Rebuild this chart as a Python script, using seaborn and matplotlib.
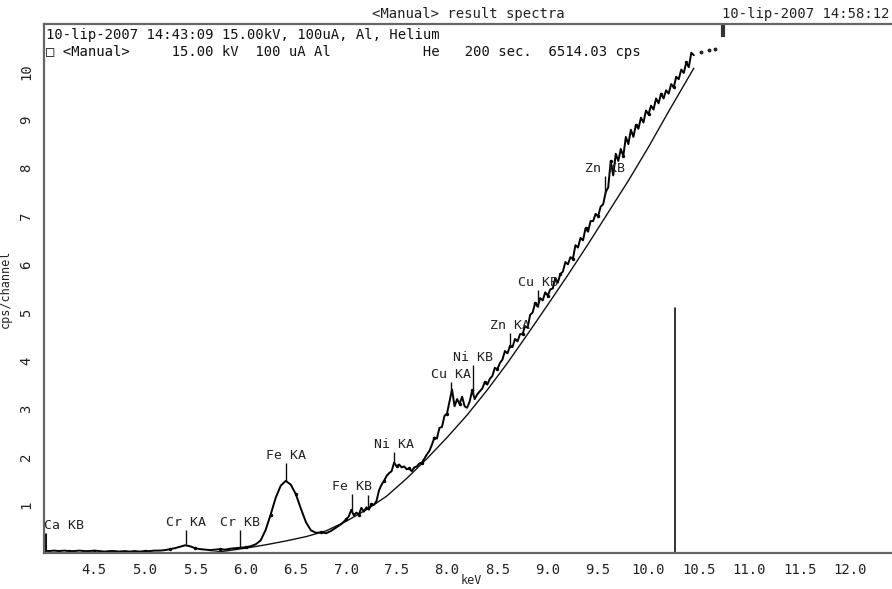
import numpy as np
import pandas as pd
import matplotlib
matplotlib.use("Agg")
import matplotlib.pyplot as plt
import seaborn as sns

# ---------------- data ----------------
kev_low = [4.00, 4.05, 4.10, 4.15, 4.20, 4.25, 4.30, 4.35, 4.40, 4.45,
           4.50, 4.55, 4.60, 4.65, 4.70, 4.75, 4.80, 4.85, 4.90, 4.95,
           5.00, 5.05, 5.10, 5.15, 5.20, 5.25, 5.30, 5.35, 5.40, 5.45,
           5.50, 5.55, 5.60, 5.65, 5.70, 5.75, 5.80, 5.85, 5.90, 5.95,
           6.00, 6.05, 6.10, 6.15, 6.20, 6.25, 6.30, 6.35, 6.40, 6.45,
           6.50, 6.55, 6.60, 6.65, 6.70, 6.75, 6.80, 6.85, 6.90, 6.95]
cps_low = [0.05, 0.04, 0.05, 0.04, 0.05, 0.04, 0.04, 0.05, 0.04, 0.04,
           0.05, 0.04, 0.03, 0.04, 0.04, 0.03, 0.04, 0.03, 0.04, 0.03,
           0.04, 0.04, 0.05, 0.05, 0.06, 0.08, 0.10, 0.13, 0.16, 0.14,
           0.10, 0.08, 0.07, 0.06, 0.07, 0.08, 0.07, 0.09, 0.10, 0.11,
           0.12, 0.14, 0.18, 0.26, 0.48, 0.80, 1.15, 1.40, 1.50, 1.42,
           1.22, 0.92, 0.64, 0.47, 0.42, 0.43, 0.41, 0.46, 0.53, 0.60]

kev_high = [7.000, 7.025, 7.050, 7.075, 7.100, 7.125, 7.150, 7.175, 7.200, 7.225,
            7.250, 7.275, 7.300, 7.325, 7.350, 7.375, 7.400, 7.425, 7.450, 7.475,
            7.500, 7.525, 7.550, 7.575, 7.600, 7.625, 7.650, 7.675, 7.700, 7.725,
            7.750, 7.775, 7.800, 7.825, 7.850, 7.875, 7.900, 7.925, 7.950, 7.975,
            8.000, 8.025, 8.050, 8.075, 8.100, 8.125, 8.150, 8.175, 8.200, 8.225,
            8.250, 8.275, 8.300, 8.325, 8.350, 8.375, 8.400, 8.425, 8.450, 8.475,
            8.500, 8.525, 8.550, 8.575, 8.600, 8.625, 8.650, 8.675, 8.700, 8.725,
            8.750, 8.775, 8.800, 8.825, 8.850, 8.875, 8.900, 8.925, 8.950, 8.975,
            9.000, 9.025, 9.050, 9.075, 9.100, 9.125, 9.150, 9.175, 9.200, 9.225,
            9.250, 9.275, 9.300, 9.325, 9.350, 9.375, 9.400, 9.425, 9.450, 9.475,
            9.500, 9.525, 9.550, 9.575, 9.600, 9.625, 9.650, 9.675, 9.700, 9.725,
            9.750, 9.775, 9.800, 9.825, 9.850, 9.875, 9.900, 9.925, 9.950, 9.975,
            10.000, 10.025, 10.050, 10.075, 10.100, 10.125, 10.150, 10.175, 10.200, 10.225,
            10.250, 10.275, 10.300, 10.325, 10.350, 10.375, 10.400, 10.425, 10.450]
cps_high = [0.70, 0.76, 0.90, 0.78, 0.84, 0.80, 0.94, 0.86, 0.95, 0.90,
            1.02, 1.00, 1.08, 1.30, 1.42, 1.50, 1.60, 1.66, 1.70, 1.88,
            1.80, 1.84, 1.78, 1.80, 1.74, 1.76, 1.70, 1.78, 1.80, 1.86,
            1.88, 1.96, 2.05, 2.12, 2.25, 2.40, 2.38, 2.60, 2.62, 2.85,
            2.90, 3.15, 3.40, 3.05, 3.20, 3.10, 3.25, 3.05, 3.02, 3.15,
            3.38, 3.20, 3.30, 3.36, 3.42, 3.55, 3.50, 3.62, 3.68, 3.85,
            3.82, 3.95, 4.02, 4.20, 4.15, 4.30, 4.28, 4.45, 4.40, 4.55,
            4.55, 4.72, 4.68, 4.95, 5.00, 5.20, 5.12, 5.30, 5.25, 5.42,
            5.35, 5.48, 5.50, 5.72, 5.62, 5.80, 5.85, 6.05, 6.00, 6.15,
            6.12, 6.40, 6.35, 6.55, 6.50, 6.75, 6.68, 6.90, 6.90, 7.05,
            7.00, 7.20, 7.25, 7.50, 7.60, 8.15, 7.85, 8.30, 8.15, 8.40,
            8.25, 8.65, 8.50, 8.80, 8.65, 8.90, 8.82, 9.05, 8.95, 9.20,
            9.12, 9.30, 9.22, 9.45, 9.35, 9.55, 9.45, 9.62, 9.55, 9.75,
            9.68, 9.90, 9.85, 10.05, 9.98, 10.20, 10.10, 10.40, 10.35]

bg_kev = [5.6, 5.8, 6.0, 6.2, 6.4, 6.6, 6.8, 7.0, 7.2, 7.4, 7.6, 7.8, 8.0,
          8.2, 8.4, 8.6, 8.8, 9.0, 9.2, 9.4, 9.6, 9.8, 10.0, 10.2, 10.45]
bg_cps = [0.00, 0.04, 0.10, 0.17, 0.25, 0.34, 0.46, 0.66, 0.90, 1.18, 1.55, 1.96, 2.40,
          2.87, 3.39, 3.95, 4.55, 5.16, 5.78, 6.42, 7.08, 7.74, 8.44, 9.18, 10.08]

tail_kev = [10.52, 10.60, 10.66]
tail_cps = [10.42, 10.45, 10.47]

line_names = ["Ca KB", "Cr KA", "Cr KB", "Fe KA", "Fe KB", "", "Ni KA",
              "Cu KA", "Ni KB", "Zn KA", "Cu KB", "Zn KB"]
line_kev = [4.01, 5.41, 5.95, 6.40, 7.06, 7.22, 7.47, 8.04, 8.26, 8.63, 8.90, 9.57]
marker_len = [0.42, 0.33, 0.37, 0.37, 0.37, 0.30, 0.26, 0.25, 0.60, 0.28, 0.35, 0.38]

cursor_kev = 10.26
cursor_cps = 5.09
top_marker_kev = 10.74

xticks = [4.5, 5.0, 5.5, 6.0, 6.5, 7.0, 7.5, 8.0, 8.5, 9.0, 9.5, 10.0, 10.5, 11.0, 11.5, 12.0]
yticks = [1, 2, 3, 4, 5, 6, 7, 8, 9, 10]

# ---------------- plot ----------------
sns.set_theme(style="white")
plt.rcParams["font.family"] = ["DejaVu Sans Mono", "DejaVu Sans"]

W, H = 892, 589
fig = plt.figure(figsize=(W / 100, H / 100), dpi=100)
ax_l, ax_r, ax_t, ax_b = 44, 892, 24, 553
ax = fig.add_axes([ax_l / W, 1 - ax_b / H, (ax_r - ax_l) / W, (ax_b - ax_t) / H])

spec = pd.DataFrame({"keV": kev_low + kev_high, "cps": cps_low + cps_high})
bg = pd.DataFrame({"keV": bg_kev, "cps": bg_cps})

sns.lineplot(data=bg, x="keV", y="cps", ax=ax, color="#111111", linewidth=1.0, sort=False)
sns.lineplot(data=spec, x="keV", y="cps", ax=ax, color="#000000", linewidth=1.4, sort=False,
             marker="o", markersize=2.5, markevery=5, markeredgewidth=0)
ax.plot(tail_kev, tail_cps, ls="none", marker="o", ms=1.8, color="#222222")

# element markers
all_k = np.array(kev_low + kev_high)
all_c = np.array(cps_low + cps_high)
for name, e, ln in zip(line_names, line_kev, marker_len):
    base = float(np.interp(e, all_k, all_c))
    if name == "Ca KB":
        base = 0.0
    ax.plot([e, e], [base, base + ln], color="#111111", lw=1.0 if name != "Ca KB" else 2.2,
            solid_capstyle="butt", clip_on=False)
    if name:
        ha = "left" if name == "Ca KB" else "center"
        tx = e - 0.01 if name == "Ca KB" else e
        ax.text(tx, base + ln + 0.02, name, ha=ha, va="bottom", fontsize=9.5,
                color="#222222")

ax.plot([cursor_kev, cursor_kev], [0, cursor_cps], color="#111111", lw=1.2)
ax.plot([top_marker_kev, top_marker_kev], [11.0, 10.72], color="#333333", lw=3.0,
        solid_capstyle="butt", clip_on=False)

ax.set_xlim(4.0, 4.0 + (ax_r - ax_l) / 100.75)
ax.set_ylim(0, (ax_b - ax_t) / 48.1)
ax.set_xticks(xticks)
ax.set_xticklabels([f"{v:.1f}" for v in xticks])
ax.set_yticks(yticks)
ax.set_yticklabels([str(v) for v in yticks], rotation=90, va="center")
ax.tick_params(axis="x", direction="out", length=3, width=1, colors="#555555",
               labelcolor="#222222", labelsize=10, pad=4)
ax.tick_params(axis="y", direction="out", length=5, width=1, colors="#555555",
               labelcolor="#222222", labelsize=10, pad=3)
ax.set_xlabel("keV", fontsize=8.5, color="#222222", va="center")
ax.xaxis.set_label_coords((471 - ax_l) / (ax_r - ax_l), -(581 - ax_b) / (ax_b - ax_t))
ax.set_ylabel("cps/channel", fontsize=8.5, color="#222222")
ax.yaxis.set_label_coords(-(44 - 12) / (ax_r - ax_l), (ax_b - 289) / (ax_b - ax_t))

for s in ["left", "bottom", "top"]:
    ax.spines[s].set_color("#666666")
    ax.spines[s].set_linewidth(1.6)
ax.spines["right"].set_visible(False)
ax.grid(False)

# header texts
fig.text(372 / W, 1 - 14 / H, "<Manual> result spectra", fontsize=10, va="center",
         ha="left", color="#222222")
fig.text(890 / W, 1 - 14 / H, "10-lip-2007 14:58:12", fontsize=10, va="center",
         ha="right", color="#222222")
fig.text(46 / W, 1 - 35 / H, "10-lip-2007 14:43:09 15.00kV, 100uA, Al, Helium",
         fontsize=10, va="center", ha="left", color="#111111")
fig.text(46 / W, 1 - 52 / H,
         "\u25a1 <Manual>     15.00 kV  100 uA Al           He   200 sec.  6514.03 cps",
         fontsize=10, va="center", ha="left", color="#111111")

fig.savefig("out.png", dpi=100)
